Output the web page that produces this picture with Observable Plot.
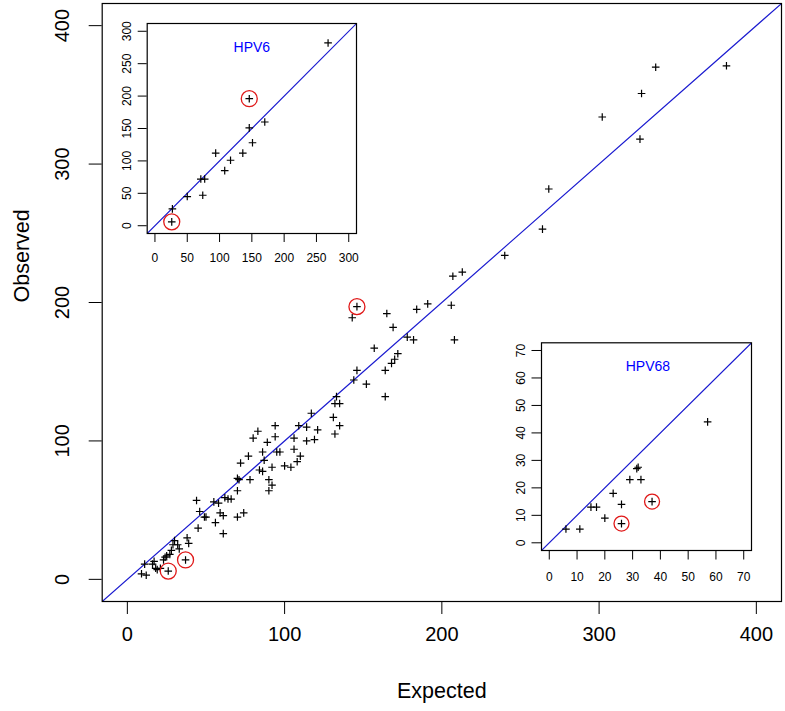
<!DOCTYPE html>
<html>
<head>
<meta charset="utf-8">
<script src="https://cdn.jsdelivr.net/npm/d3@7"></script>
<script src="https://cdn.jsdelivr.net/npm/@observablehq/plot@0.6"></script>
<style>
  body { margin: 0; background: white; }
  #wrap { position: relative; width: 785px; height: 711px; overflow: hidden; background: white; }
  #wrap svg { position: absolute; }
</style>
</head>
<body>
<div id="wrap"></div>
<script>
// ---------- Data ----------
// Main panel: all types, expected vs observed
const mainExpected = [381,336,327,302,326,268,264,240,213,207,206,191,184,165,146,143,169,178,182,208,157,172,170,168,164,146,144,152,133,164,132,135,117,131,135,132,94,83,109,114,121,80,89,94,106,114,119,86,95,97,106,77,72,87,110,108,100,104,84,86,92,70,71,78,90,92,90,70,62,64,66,55,58,44,46,49,50,59,56,61,70,74,45,61,38,39,30,32,33,29,28,25,24,27,37,26,17,16,11,18,19,21,23,9,12];
const mainObserved = [371,370,351,334,318,282,253,234,222,219,198,199,195,192,197,189,182,175,173,173,167,163,159,156,151,151,144,141,132,132,127,127,120,117,111,105,111,107,111,110,108,102,99,103,102,100,101,92,92,92,94,89,84,86,89,85,82,81,79,78,81,73,72,72,72,68,64,64,59,58,58,56,55,57,49,45,45,48,41,46,45,48,37,33,30,26,28,25,22,25,21,17,16,18,14,6,13,11,11,8,7,8,14,4,3];
const mainCircledExpected = [146, 26, 37];
const mainCircledObserved = [197, 6, 14];
const mainTicks = [0, 100, 200, 300, 400];

// Inset HPV6
const hpv6Expected = [268,146,170,146,151,94,136,117,108,71,77,74,50,27,26];
const hpv6Observed = [282,196,160,151,128,112,112,101,85,72,72,47,45,26,6];
const hpv6CircledExpected = [146, 26];
const hpv6CircledObserved = [196, 6];
const hpv6Ticks = [0, 50, 100, 150, 200, 250, 300];

// Inset HPV68
const hpv68Expected = [57,31.5,32,29,33,23,26,37,15,17,20,26,6,11];
const hpv68Observed = [44,27,27.5,23,23,18,14,15,13,13,9,7,5,5];
const hpv68CircledExpected = [37, 26];
const hpv68CircledObserved = [15, 7];
const hpv68Ticks = [0, 10, 20, 30, 40, 50, 60, 70];

// ---------- Helpers ----------
const FONT = "'Liberation Sans', Arial, Helvetica, sans-serif";
const LINE_BLUE = "#1c1cd0";
const plusSymbol = {
  draw(ctx, size) {
    const r = Math.sqrt(size / Math.PI);
    ctx.moveTo(-r, 0); ctx.lineTo(r, 0);
    ctx.moveTo(0, -r); ctx.lineTo(0, r);
  }
};
const pairs = (xs, ys) => xs.map((x, i) => ({x, y: ys[i]}));
// R-style axis range: data range extended by 4% on each side
const rRange = (ticks) => {
  const lo = ticks[0], hi = ticks[ticks.length - 1], pad = (hi - lo) * 0.04;
  return [lo - pad, hi + pad];
};

function panel({xs, ys, cxs, cys, ticks, width, height, margins, tickSize, tickPadX, tickPadY,
                tickFont, plusR, circleR, label, labelAt, labelFont}) {
  const dom = rRange(ticks);
  const marks = [
    Plot.line(dom, {x: d => d, y: d => d, stroke: LINE_BLUE, strokeWidth: 1.2, clip: true}),
    Plot.dot(pairs(xs, ys), {x: "x", y: "y", symbol: plusSymbol, r: plusR, stroke: "black", fill: "none", strokeWidth: 1.2}),
    Plot.dot(pairs(cxs, cys), {x: "x", y: "y", r: circleR, stroke: "#e01818", fill: "none", strokeWidth: 1.3}),
    Plot.frame({stroke: "black", strokeWidth: 1.2}),
    Plot.axisX({ticks, tickSize, tickPadding: tickPadX, fontSize: tickFont, label: null, tickFormat: d => String(d)}),
    Plot.axisY({ticks, tickSize, tickPadding: tickPadY, tickRotate: -90, fontSize: tickFont, label: null, tickFormat: d => String(d)})
  ];
  if (label) {
    marks.push(Plot.text([label], {x: labelAt[0], y: labelAt[1], text: d => d, fill: "blue", fontSize: labelFont}));
  }
  return Plot.plot({
    width, height,
    marginLeft: margins[0], marginRight: margins[1], marginTop: margins[2], marginBottom: margins[3],
    x: {domain: dom},
    y: {domain: dom},
    style: {fontFamily: FONT, background: "transparent", color: "black", overflow: "visible"},
    marks
  });
}

// ---------- Main plot ----------
const mainSvg = panel({
  xs: mainExpected, ys: mainObserved, cxs: mainCircledExpected, cys: mainCircledObserved,
  ticks: mainTicks, width: 785, height: 711, margins: [101.7, 4, 3, 110],
  tickSize: 13, tickPadX: 12, tickPadY: 20, tickFont: 20, plusR: 3.8, circleR: 8
});
// axis titles
const mainTitles = Plot.plot({
  width: 785, height: 711, marginLeft: 101.7, marginRight: 4, marginTop: 3, marginBottom: 110,
  x: {domain: [0, 1], axis: null}, y: {domain: [0, 1], axis: null},
  style: {fontFamily: FONT, background: "transparent", color: "black"},
  marks: [
    Plot.text(["Expected"], {frameAnchor: "bottom", text: d => d, dy: 96, fontSize: 21.5}),
    Plot.text(["Observed"], {frameAnchor: "left", text: d => d, dx: -80, rotate: -90, fontSize: 21.5})
  ]
});

// ---------- Insets ----------
const hpv6Svg = panel({
  xs: hpv6Expected, ys: hpv6Observed, cxs: hpv6CircledExpected, cys: hpv6CircledObserved,
  ticks: hpv6Ticks, width: 270, height: 280, margins: [50.7, 10, 23, 47],
  tickSize: 9, tickPadX: 11, tickPadY: 7, tickFont: 12, plusR: 3.8, circleR: 8,
  label: "HPV6", labelAt: [150, 275], labelFont: 14
});
const hpv68Svg = panel({
  xs: hpv68Expected, ys: hpv68Observed, cxs: hpv68CircledExpected, cys: hpv68CircledObserved,
  ticks: hpv68Ticks, width: 290, height: 270, margins: [46, 34, 12.3, 50],
  tickSize: 9.5, tickPadX: 12, tickPadY: 7, tickFont: 12, plusR: 3.8, circleR: 7.5,
  label: "HPV68", labelAt: [35.5, 64.3], labelFont: 14
});

const wrap = document.getElementById("wrap");
function place(svg, left, top) {
  svg.style.left = left + "px";
  svg.style.top = top + "px";
  wrap.appendChild(svg);
}
place(mainSvg, 0, 0);
place(mainTitles, 0, 0);
place(hpv6Svg, 96, 0);
place(hpv68Svg, 495, 330);
</script>
</body>
</html>
